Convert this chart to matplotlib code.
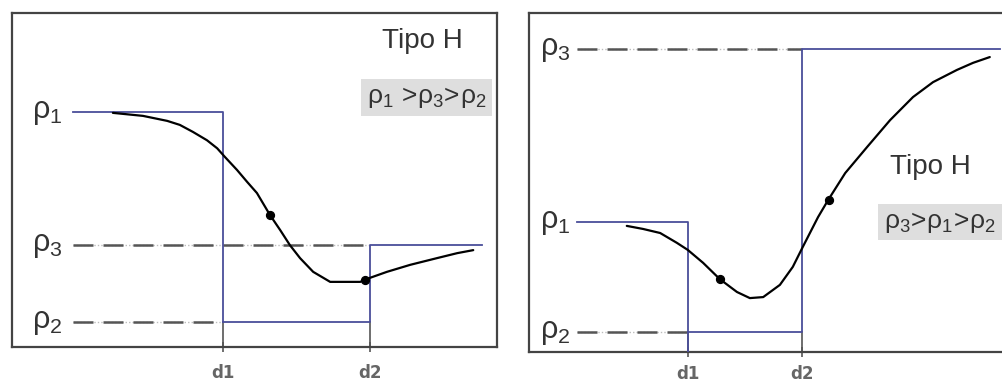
import matplotlib
matplotlib.use("Agg")
import matplotlib.pyplot as plt

# Liberation Sans for text, and for the greek rho in mathtext too
plt.rcParams['font.family'] = ['Liberation Sans', 'DejaVu Sans']
plt.rcParams['mathtext.fontset'] = 'custom'
plt.rcParams['mathtext.rm'] = 'Liberation Sans'
plt.rcParams['mathtext.it'] = 'Liberation Sans'
plt.rcParams['mathtext.bf'] = 'Liberation Sans'

BLUE = '#4a4e9a'
GRAY = '#555555'
FRAME = '#444444'
TEXT = '#333333'

# ---- left model: rho1 > rho3 > rho2 ----
left_rho = [70.4, 7.5, 30.5]          # rho1, rho2, rho3
left_depths = [43.5, 73.8]            # d1, d2
left_span = [12.6, 96.9]              # start / end of the level lines
left_curve_x = [20.8, 27.0, 32.0, 34.6, 37.3, 40.2, 42.3, 43.9, 46.4, 48.5,
                50.5, 53.2, 55.3, 57.3, 59.4, 62.1, 65.6, 71.8, 73.8, 77.3,
                82.1, 87.6, 91.8, 95.1]
left_curve_y = [70.1, 69.2, 67.7, 66.5, 64.4, 61.9, 59.5, 56.9, 53.0, 49.4,
                46.1, 39.5, 35.0, 30.5, 26.6, 22.5, 19.5, 19.5, 20.7, 22.5,
                24.6, 26.6, 28.1, 29.0]
left_dots_x = [53.2, 72.8]
left_dots_y = [39.5, 20.1]

# ---- right model: rho3 > rho1 > rho2 ----
right_rho = [38.3, 5.9, 89.4]
right_depths = [33.3, 57.2]
right_span = [10.1, 98.7]
right_curve_x = [20.5, 23.9, 27.5, 31.0, 33.3, 36.5, 40.0, 43.6, 46.3, 49.1,
                 52.6, 55.3, 57.4, 60.6, 62.7, 66.3, 70.9, 75.7, 80.5, 84.7,
                 89.7, 93.1, 96.6]
right_curve_y = [37.2, 36.3, 35.1, 32.2, 30.1, 26.3, 21.5, 17.7, 15.9, 16.2,
                 19.8, 25.1, 31.0, 39.8, 44.8, 52.8, 60.5, 68.4, 75.2, 79.6,
                 83.2, 85.3, 87.0]
right_dots_x = [40.0, 62.9]
right_dots_y = [21.5, 44.8]

rho_labels = [r'$\rho_1$', r'$\rho_2$', r'$\rho_3$']
depth_labels = ['d1', 'd2']


def dashed(ax, x0, x1, y):
    # faint dotted base with dark dashes on top
    ax.plot([x0, x1], [y, y], color='#bdbdbd', lw=1.0, ls=(0, (1, 1.5)),
            zorder=2)
    ax.plot([x0, x1], [y, y], color=GRAY, lw=1.8, dashes=(8, 4), zorder=2)


def draw_panel(ax, rho, depths, span, cx, cy, dx, dy, label_x,
               title_pos, box_pos, box_text, tick_pad):
    r1, r2, r3 = rho
    d1, d2 = depths
    x0, x1 = span
    ax.set_xlim(0, 100)
    ax.set_ylim(0, 100)

    dashed(ax, x0, d1, r2)
    dashed(ax, x0, d2, r3)

    # layered model (step line)
    ax.plot([x0, d1, d1], [r1, r1, 0 if r1 < r3 else r2],
            color=BLUE, lw=1.3, zorder=3)
    ax.plot([d1, d2, d2, x1], [r2, r2, r3, r3], color=BLUE, lw=1.3, zorder=3)

    # tick stubs from rho2 down to the frame
    for d in depths:
        ax.plot([d, d], [0, r2], color=GRAY, lw=1.2, zorder=2)

    # apparent resistivity curve
    ax.plot(cx, cy, color='black', lw=1.6, zorder=4,
            solid_joinstyle='round', solid_capstyle='round')
    ax.scatter(dx, dy, s=32, color='black', zorder=5)

    for lab, y in zip(rho_labels, rho):
        ax.text(label_x, y, lab, fontsize=22, color=TEXT,
                ha='center', va='center')

    ax.set_yticks([])
    ax.set_xticks(depths)
    ax.set_xticklabels(depth_labels, family='DejaVu Sans', fontsize=12,
                       color='#666666', fontweight='bold')
    ax.tick_params(axis='x', direction='inout', length=7, width=1.2,
                   color=GRAY, pad=tick_pad)

    ax.text(*title_pos, 'Tipo H', transform=ax.transAxes, fontsize=20,
            color=TEXT, ha='center', va='center')
    ax.text(*box_pos, box_text, transform=ax.transAxes, fontsize=19,
            color=TEXT, ha='center', va='center',
            bbox=dict(boxstyle='square,pad=0.22', fc='#dedede', ec='none'))

    for s in ax.spines.values():
        s.set_color(FRAME)
        s.set_linewidth(1.6)


fig = plt.figure(figsize=(10.03, 3.85), dpi=100)
ax1 = fig.add_axes([12 / 1003, 38 / 385, 485 / 1003, 334 / 385])
ax2 = fig.add_axes([529 / 1003, 33 / 385, 477 / 1003, 339 / 385])

draw_panel(ax1, left_rho, left_depths, left_span, left_curve_x, left_curve_y,
           left_dots_x, left_dots_y, 7.2, (0.847, 0.915), (0.854, 0.747),
           r'$\rho_1\,>\!\rho_3\!>\!\rho_2$', 9)
draw_panel(ax2, right_rho, right_depths, right_span, right_curve_x,
           right_curve_y, right_dots_x, right_dots_y, 5.5, (0.841, 0.546),
           (0.862, 0.383), r'$\rho_3\!>\!\rho_1\!>\!\rho_2$', 6)

fig.savefig('out.png', dpi=100)
